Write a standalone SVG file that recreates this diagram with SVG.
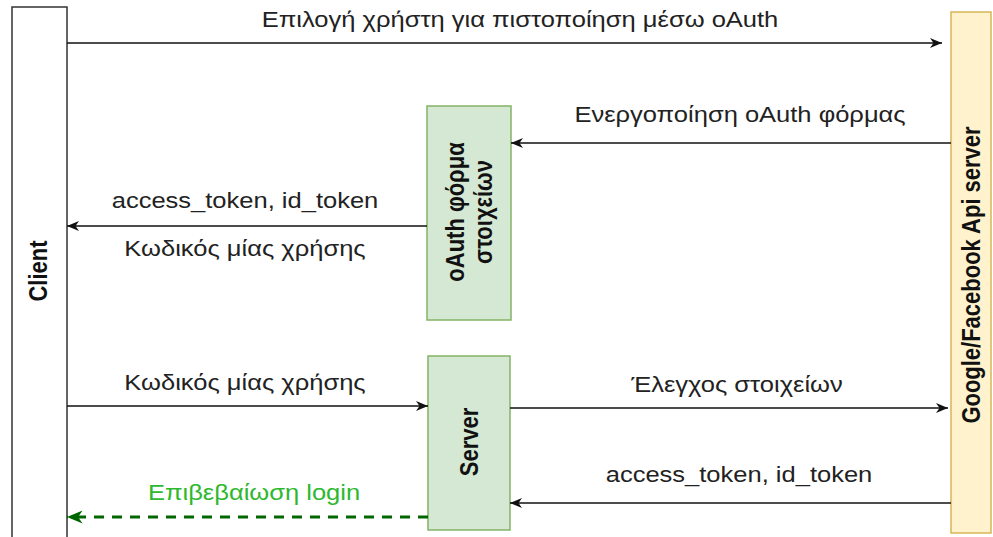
<svg xmlns="http://www.w3.org/2000/svg" width="993" height="537" viewBox="0 0 993 537">
<defs>
<marker id="ah" viewBox="0 0 12 10" refX="12" refY="5" markerWidth="12" markerHeight="10" markerUnits="userSpaceOnUse" orient="auto">
<path d="M0,0 L12,5 L0,10 L3.5,5 Z" fill="#111"/>
</marker>
<marker id="ahg" viewBox="0 0 12 10" refX="12" refY="5" markerWidth="16" markerHeight="13" markerUnits="userSpaceOnUse" orient="auto">
<path d="M0,0 L12,5 L0,10 L3.5,5 Z" fill="#006600"/>
</marker>
<style>
.lbl{font-family:"Liberation Sans",Arial,sans-serif;font-size:22px;fill:#222;text-anchor:middle}
.ttl{font-family:"Liberation Sans",Arial,sans-serif;font-size:22px;font-weight:bold;fill:#111;text-anchor:middle}
.ln{stroke:#111;stroke-width:1.6;fill:none;marker-end:url(#ah)}
.grn{fill:#d5e8d4;stroke:#82b366;stroke-width:1.5}
.yel{fill:#fff2cc;stroke:#d6b656;stroke-width:1.5}
</style>
</defs>
<rect width="993" height="537" fill="#fff"/>
<g id="client">
<rect x="12" y="7" width="55" height="540" fill="#fff" stroke="#333" stroke-width="1.5"/>
<text class="ttl" transform="translate(47,271) scale(1.15,1) rotate(-90)">Client</text>
</g>
<g id="google">
<rect class="yel" x="951" y="12" width="40" height="521"/>
<text class="ttl" transform="translate(980,275) scale(1.15,1) rotate(-90)">Google/Facebook Api server</text>
</g>
<g id="oauth">
<rect class="grn" x="427" y="106" width="84" height="214"/>
<text class="ttl" transform="translate(469,212) scale(1.15,1) rotate(-90)"><tspan x="0" y="-4">oAuth φόρμα</tspan><tspan x="0" y="20">στοιχείων</tspan></text>
</g>
<g id="server">
<rect class="grn" x="428" y="356" width="82" height="174"/>
<text class="ttl" transform="translate(478,442) scale(1.15,1) rotate(-90)">Server</text>
</g>
<g id="connectors">
<line class="ln" x1="67" y1="43" x2="942" y2="43"/>
<line class="ln" x1="951" y1="143" x2="511" y2="143"/>
<line class="ln" x1="427" y1="226" x2="67" y2="226"/>
<line class="ln" x1="67" y1="406" x2="428" y2="406"/>
<line class="ln" x1="510" y1="408" x2="948" y2="408"/>
<line class="ln" x1="951" y1="503" x2="510" y2="503"/>
<line x1="428" y1="517" x2="67" y2="517" stroke="#006600" stroke-width="3" stroke-dasharray="10,8" marker-end="url(#ahg)"/>
</g>
<g id="labels">
<text class="lbl" transform="translate(520,27) scale(1.16,1)">Επιλογή χρήστη για πιστοποίηση μέσω oAuth</text>
<text class="lbl" transform="translate(740,122) scale(1.16,1)">Ενεργοποίηση oAuth φόρμας</text>
<text class="lbl" transform="translate(245,208) scale(1.16,1)">access_token, id_token</text>
<text class="lbl" transform="translate(245,256) scale(1.16,1)">Κωδικός μίας χρήσης</text>
<text class="lbl" transform="translate(245,390) scale(1.16,1)">Κωδικός μίας χρήσης</text>
<text class="lbl" transform="translate(737,392) scale(1.16,1)">Έλεγχος στοιχείων</text>
<text class="lbl" transform="translate(739,482) scale(1.16,1)">access_token, id_token</text>
<text class="lbl" transform="translate(254,500) scale(1.16,1)" style="fill:#2eb82e">Επιβεβαίωση login</text>
</g>
</svg>
